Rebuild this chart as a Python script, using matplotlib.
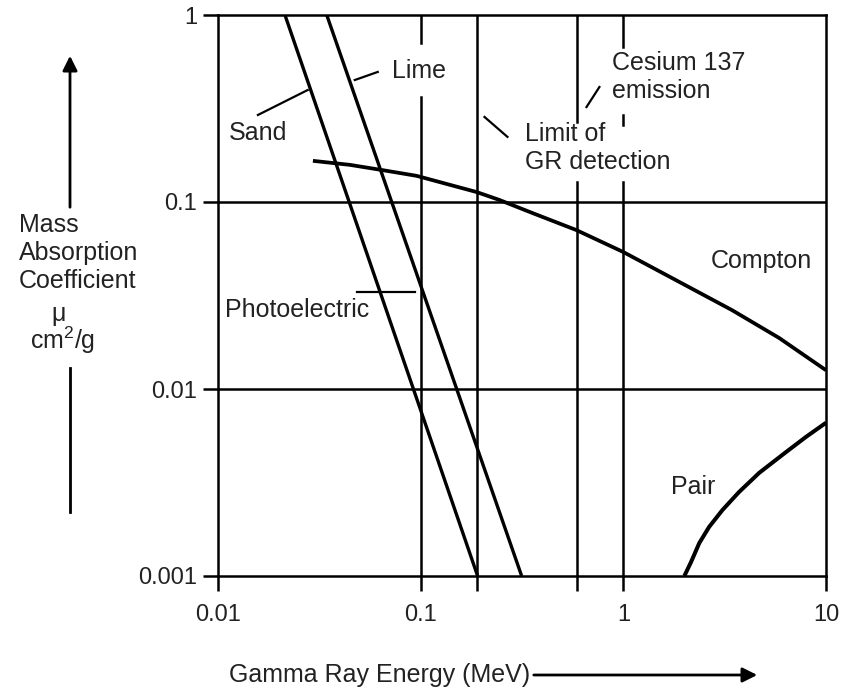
import matplotlib
matplotlib.use('Agg')
import matplotlib.pyplot as plt
from matplotlib.lines import Line2D
from matplotlib.patches import FancyArrowPatch

plt.rcParams['font.family'] = ['Liberation Sans', 'DejaVu Sans']
plt.rcParams['mathtext.fontset'] = 'custom'
plt.rcParams['mathtext.rm'] = 'Liberation Sans'
plt.rcParams['mathtext.it'] = 'Liberation Sans:italic'

# ---------------- data ----------------
sand_energy = [0.0214, 0.191]
sand_mu = [1.0, 0.001]
lime_energy = [0.0344, 0.315]
lime_mu = [1.0, 0.001]
compton_energy = [0.0294, 0.0447, 0.065, 0.0955, 0.189, 0.245, 0.356, 0.586,
                  1.0, 1.63, 3.44, 5.87, 10.0]
compton_mu = [0.166, 0.158, 0.148, 0.138, 0.113, 0.1025, 0.0873, 0.0708,
              0.054, 0.0407, 0.0264, 0.01875, 0.0126]
pair_energy = [2.0, 2.16, 2.37, 2.65, 3.08, 3.72, 4.68, 6.35, 7.96, 10.0]
pair_mu = [0.001, 0.00119, 0.0015, 0.00183, 0.00225, 0.00281, 0.00356,
           0.0046, 0.00554, 0.0066]
x_ticks = [0.01, 0.1, 0.19, 0.59, 1, 10]
x_ticklabels = ['0.01', '0.1', '', '', '1', '10']
y_ticks = [0.001, 0.01, 0.1, 1]
y_ticklabels = ['0.001', '0.01', '0.1', '1']
grid_mu = [0.1, 0.01]
limit_energy = 0.19
cesium_energy = 0.59

# ---------------- figure ----------------
W, H = 848, 689
fig = plt.figure(figsize=(W / 100, H / 100), dpi=100)
L, R, T, B = 218, 826, 15, 576
ax = fig.add_axes([L / W, 1 - B / H, (R - L) / W, (B - T) / H])
ax.set_xscale('log')
ax.set_yscale('log')
ax.set_xlim(0.01, 10)
ax.set_ylim(0.001, 1)

LW_GRID = 1.8
LW_CURVE = 2.4
for s in ax.spines.values():
    s.set_linewidth(LW_GRID)
    s.set_color('black')

ax.minorticks_off()
ax.set_xticks(x_ticks)
ax.set_xticklabels(x_ticklabels)
ax.set_yticks(y_ticks)
ax.set_yticklabels(y_ticklabels)
ax.tick_params(axis='both', which='major', direction='out', length=11,
               width=LW_GRID, labelsize=17, colors='black',
               labelcolor='#222222', pad=4)
ax.tick_params(axis='x', pad=9)
ax.tick_params(which='minor', length=0)

# horizontal grid lines
for g in grid_mu:
    ax.axhline(g, color='black', lw=LW_GRID)

# vertical lines (with gaps for labels)
ax.plot([0.1, 0.1], [1, 0.708], color='black', lw=LW_GRID)
ax.plot([0.1, 0.1], [0.364, 0.001], color='black', lw=LW_GRID)
ax.axvline(limit_energy, color='black', lw=LW_GRID)
ax.plot([cesium_energy] * 2, [1, 0.268], color='black', lw=LW_GRID)
ax.plot([cesium_energy] * 2, [0.128, 0.001], color='black', lw=LW_GRID)
ax.plot([1, 1], [1, 0.674], color='black', lw=LW_GRID)
ax.plot([1, 1], [0.292, 0.258], color='black', lw=LW_GRID)
ax.plot([1, 1], [0.128, 0.001], color='black', lw=LW_GRID)

# curves
ax.plot(sand_energy, sand_mu, color='black', lw=LW_CURVE, solid_capstyle='butt')
ax.plot(lime_energy, lime_mu, color='black', lw=LW_CURVE, solid_capstyle='butt')
ax.plot(compton_energy, compton_mu, color='black', lw=LW_CURVE + 0.3,
        solid_joinstyle='round', solid_capstyle='butt')
ax.plot(pair_energy, pair_mu, color='black', lw=LW_CURVE + 0.5,
        solid_joinstyle='round', solid_capstyle='butt')

# leader lines
LW_LEAD = 1.6
ax.plot([0.0277, 0.01574], [0.397, 0.292], color='black', lw=LW_LEAD)
ax.plot([0.0473, 0.0614], [0.449, 0.496], color='black', lw=LW_LEAD)
ax.plot([0.2065, 0.268], [0.285, 0.223], color='black', lw=LW_LEAD)
ax.plot([0.658, 0.762], [0.322, 0.412], color='black', lw=LW_LEAD)
ax.plot([0.0484, 0.0933], [0.033, 0.033], color='black', lw=LW_LEAD)


def ftext(x, y, s, ha='left', **kw):
    fig.text(x / W, 1 - y / H, s, ha=ha, va='center', fontsize=18,
             color='#222222', **kw)


ftext(229, 133, 'Sand')
ftext(392, 71, 'Lime')
ftext(525, 148, 'Limit of\nGR detection', linespacing=1.25)
ftext(612, 77, 'Cesium 137\nemission', linespacing=1.25)
ftext(711, 261, 'Compton')
ftext(671, 487, 'Pair')
ftext(225, 310, 'Photoelectric')

# y-axis label
ftext(19, 253, 'Mass\nAbsorption\nCoefficient', linespacing=1.2)
ftext(59, 314, 'μ', ha='center')
ftext(63, 340, 'cm$^2$/g', ha='center')

# y-axis arrow
fig.add_artist(FancyArrowPatch(
    (70 / W, 1 - 210 / H), (70 / W, 1 - 53 / H), transform=fig.transFigure,
    arrowstyle='-|>', mutation_scale=22, lw=2, color='black'))
fig.add_artist(Line2D([70 / W, 70 / W], [1 - 368 / H, 1 - 512 / H],
                      transform=fig.transFigure, lw=2, color='black'))

# x-axis label with arrow
ftext(229, 675, 'Gamma Ray Energy (MeV)')
fig.add_artist(FancyArrowPatch(
    (531 / W, 1 - 675 / H), (760 / W, 1 - 675 / H), transform=fig.transFigure,
    arrowstyle='-|>', mutation_scale=22, lw=2, color='black'))

fig.savefig('out.png', dpi=100)
